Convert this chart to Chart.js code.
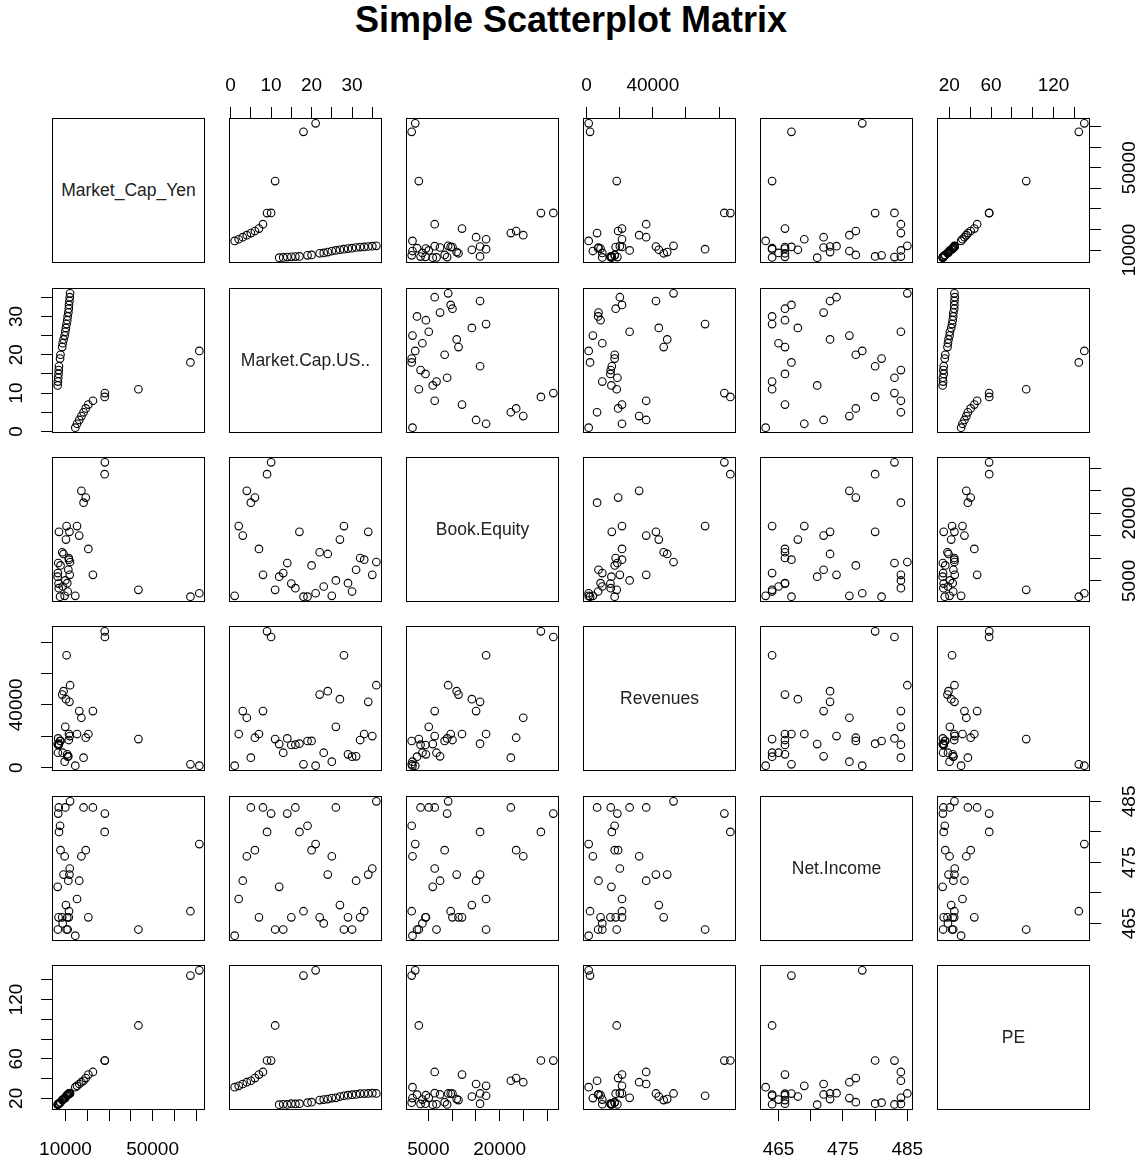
<!DOCTYPE html>
<html>
<head>
<meta charset="utf-8">
<script src="https://cdn.jsdelivr.net/npm/chart.js@4.4.0/dist/chart.umd.min.js"></script>
<style>
  body { margin: 0; background: #fff; width: 1142px; height: 1165px; position: relative; overflow: hidden;
         font-family: "Liberation Sans", Arial, sans-serif; }
  h1 { position: absolute; left: 0; top: 0; width: 1142px; margin: 0; text-align: center;
       font-size: 36px; line-height: 40px; font-weight: bold; color: #000; }
  canvas { position: absolute; }
  .diag { position: absolute; box-sizing: border-box; border: 1px solid #000; display: flex;
          align-items: center; justify-content: center; font-size: 17.5px; color: #222; }
</style>
</head>
<body>
<h1>Simple Scatterplot Matrix</h1>
<script>
// datos (una fila por empresa)
const marketCapYen = [14500, 15300, 16300, 17300, 18300, 19300, 20500, 22600, 28000, 28100, 43500, 6400,
  6500, 6650, 6800, 6900, 7000, 67400, 7500, 7700, 71500, 8500, 8700, 9100, 9600, 9900, 10200, 10500,
  10800, 11000, 11300, 11500, 11600, 11800, 11950, 12100];
const marketCapUS = [1, 2, 3, 4, 5, 6, 7, 8, 9, 10, 11, 12, 13, 14, 15, 16, 17, 18, 19, 20, 21, 22, 23, 24,
  25, 26, 27, 28, 29, 30, 31, 32, 33, 34, 35, 36];
const bookEquity = [1670, 17140, 15040, 24950, 22340, 23460, 12080, 6340, 28660, 31270, 3000, 5930, 6720,
  8950, 4400, 3370, 15870, 1500, 1500, 8430, 2250, 11340, 3750, 10960, 1670, 5090, 14150, 17140, 4490, 2630,
  7460, 10070, 9700, 15870, 6340, 9170];
const revenues = [1270, 21400, 36000, 31750, 6350, 19050, 21400, 36000, 86800, 83200, 18200, 15000, 9500,
  18600, 14400, 14600, 15240, 2100, 16950, 17000, 1270, 46550, 9500, 48700, 3810, 26000, 43600, 71560, 8450,
  6985, 7200, 17570, 21400, 41900, 20100, 52500];
const netIncome = [463, 469, 472, 476, 484, 477, 466, 484, 480, 483, 464, 471, 464, 483, 466, 484, 480, 467,
  481, 477, 478, 466, 465, 473, 476, 484, 468, 464, 466, 464, 472, 466, 467, 473, 474, 485];
const pe = [31.3, 32.6, 34.5, 36.3, 37.8, 40.5, 44.0, 46.7, 58.3, 58.2, 93.8, 13.6, 14.0, 13.8, 14.6, 14.3,
  14.6, 144.3, 15.6, 16.1, 149.6, 18.2, 18.7, 19.2, 20.2, 20.5, 21.8, 22.6, 23.2, 23.7, 23.9, 24.7, 24.8,
  24.9, 25.2, 24.9];

const varNames = ['Market_Cap_Yen', 'Market.Cap.US..', 'Book.Equity', 'Revenues', 'Net.Income', 'PE'];
const variables = [marketCapYen, marketCapUS, bookEquity, revenues, netIncome, pe];

// marcas de los ejes y las que llevan texto
const tickValues = [
  [10000, 20000, 30000, 40000, 50000, 60000, 70000],
  [0, 5, 10, 15, 20, 25, 30, 35],
  [5000, 10000, 15000, 20000, 25000, 30000],
  [0, 20000, 40000, 60000, 80000],
  [465, 470, 475, 480, 485],
  [20, 40, 60, 80, 100, 120, 140]
];
const tickLabels = [
  [10000, 50000],
  [0, 10, 20, 30],
  [5000, 20000],
  [0, 40000],
  [465, 475, 485],
  [20, 60, 120]
];

// geometria de los paneles
const colLeft = [52, 229, 406, 583, 760, 937];
const rowTop = [118, 288, 457, 626, 796, 965];
const W = 153, H = 145, M = 60;
const TL = 11;          // largo de la marca
const FONT = 19;
const dist = { top: 32, bottom: 40, left: 35, right: 40 };

const meas = document.createElement('canvas').getContext('2d');
meas.font = FONT + 'px "Liberation Sans"';

function limites(arr) {
  const lo = Math.min(...arr), hi = Math.max(...arr), pad = (hi - lo) * 0.04;
  return [lo - pad, hi + pad];
}

const marco = {
  id: 'marco',
  afterDraw(chart) {
    const a = chart.chartArea, c = chart.ctx;
    c.save();
    c.strokeStyle = '#000';
    c.lineWidth = 1;
    c.strokeRect(a.left + 0.5, a.top + 0.5, a.right - a.left - 1, a.bottom - a.top - 1);
    c.restore();
  }
};

// el eje siempre ocupa M pixeles en su lado; si no se muestra, queda en blanco
function crearEje(v, isX, pos, show) {
  const [lo, hi] = limites(variables[v]);
  const cfg = {
    type: 'linear', min: lo, max: hi,
    display: true,
    position: pos,
    afterBuildTicks: s => { s.ticks = tickValues[v].map(t => ({ value: t })); },
    afterFit: s => { if (isX) s.height = M; else s.width = M; },
    grid: { display: show, drawOnChartArea: false, drawTicks: true, tickLength: TL, tickColor: '#000', tickWidth: 1 },
    border: { display: false },
    ticks: {
      display: show, autoSkip: false, color: '#000',
      font: { family: 'Liberation Sans', size: FONT },
      callback: val => tickLabels[v].includes(val) ? String(val) : ''
    }
  };
  if (isX) {
    cfg.ticks.minRotation = 0; cfg.ticks.maxRotation = 0;
    cfg.ticks.padding = dist[pos] - TL - FONT * 0.6;
  } else {
    const widest = Math.max(...tickLabels[v].map(t => meas.measureText(String(t)).width));
    cfg.ticks.minRotation = 90; cfg.ticks.maxRotation = 90;
    cfg.ticks.crossAlign = 'center';
    cfg.ticks.padding = dist[pos] - TL - widest / 2;
  }
  return cfg;
}

function dibujarPanel(i, j) {
  const left = colLeft[j], top = rowTop[i];
  if (i === j) {
    const d = document.createElement('div');
    d.className = 'diag';
    d.style.left = left + 'px'; d.style.top = top + 'px';
    d.style.width = W + 'px'; d.style.height = H + 'px';
    d.textContent = varNames[i];
    document.body.appendChild(d);
    return;
  }
  const hasTop = i === 0 && j % 2 === 1;
  const hasBottom = i === 5 && j % 2 === 0;
  const hasLeft = j === 0 && i % 2 === 1;
  const hasRight = j === 5 && i % 2 === 0;
  const xPos = hasTop ? 'top' : 'bottom';
  const yPos = hasRight ? 'right' : 'left';

  const canvas = document.createElement('canvas');
  canvas.width = W + 2 * M; canvas.height = H + 2 * M;
  canvas.style.left = (left - M) + 'px'; canvas.style.top = (top - M) + 'px';
  document.body.appendChild(canvas);

  const puntos = variables[j].map((xv, k) => ({ x: xv, y: variables[i][k] }));

  new Chart(canvas.getContext('2d'), {
    type: 'scatter',
    data: {
      datasets: [{
        data: puntos,
        pointStyle: 'circle', pointRadius: 3.8, pointHoverRadius: 3.8,
        borderColor: '#000', borderWidth: 1.1, backgroundColor: 'rgba(0,0,0,0)'
      }]
    },
    options: {
      responsive: false, animation: false, events: [],
      layout: { padding: {
        left: yPos === 'left' ? 0 : M, right: yPos === 'right' ? 0 : M,
        top: xPos === 'top' ? 0 : M, bottom: xPos === 'bottom' ? 0 : M } },
      plugins: { legend: { display: false }, tooltip: { enabled: false } },
      scales: {
        x: crearEje(j, true, xPos, hasTop || hasBottom),
        y: crearEje(i, false, yPos, hasLeft || hasRight)
      }
    },
    plugins: [marco]
  });
}

for (let i = 0; i < 6; i++) {
  for (let j = 0; j < 6; j++) dibujarPanel(i, j);
}
</script>
</body>
</html>
